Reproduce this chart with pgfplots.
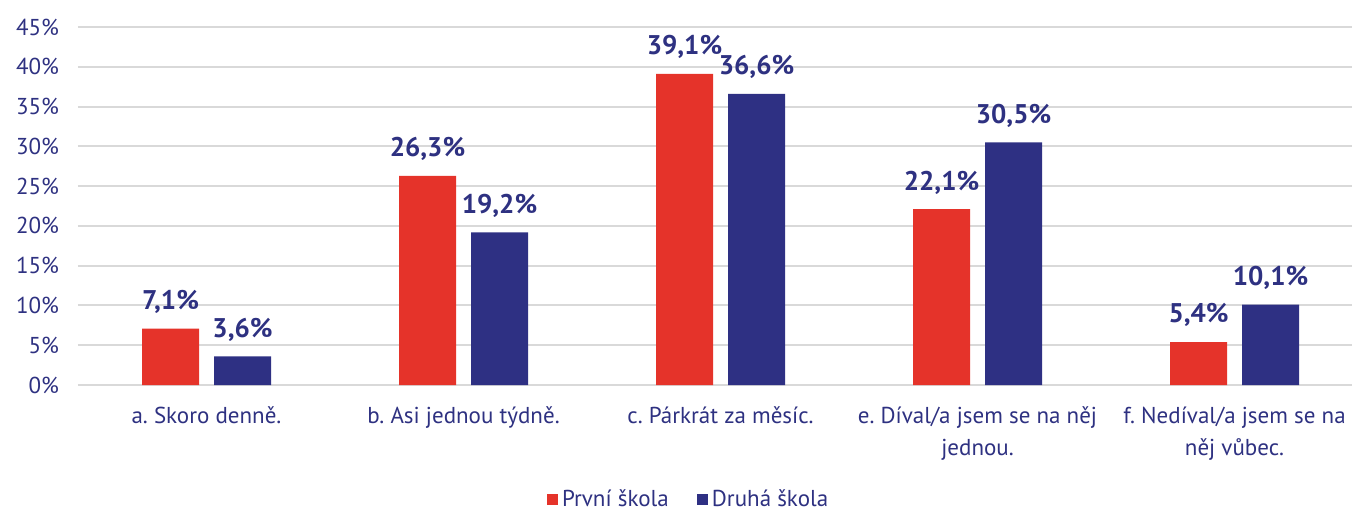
\documentclass[border=0pt]{standalone}
\usepackage{pgfplots}
\pgfplotsset{compat=1.18}
\usepackage{fontspec}
\setmainfont{PT Sans}
\frenchspacing
\definecolor{cred}{HTML}{E5332A}
\definecolor{cnavy}{HTML}{2E3083}
\definecolor{ctext}{HTML}{2E3181}
\definecolor{cgrid}{HTML}{D9D9D9}
\begin{document}
\begin{tikzpicture}
\useasboundingbox (-39pt,-64.5pt) rectangle (638pt,192.5pt);
\begin{axis}[
  at={(0,0)}, anchor=south west,
  scale only axis,
  width=637pt, height=179pt,
  ybar=7.5pt, bar width=28.5pt,
  xmin=-0.5, xmax=4.457,
  ymin=0, ymax=45,
  ytick={0,5,...,45},
  yticklabel={\pgfmathprintnumber{\tick}\%},
  xtick={0,1,2,3,4},
  xticklabels={a. Skoro denně.,b. Asi jednou týdně.,c. Párkrát za měsíc.,e. Díval/a jsem se na něj\\jednou.,f. Nedíval/a jsem se na\\něj vůbec.},
  xticklabel style={align=center, font=\fontsize{11.5}{16}\selectfont, text=ctext, yshift=-7.5pt},
  yticklabel style={font=\fontsize{11.5}{14}\selectfont, text=ctext, xshift=-6pt},
  /pgf/number format/assume math mode=true,
  axis line style={draw=none},
  major tick length=0pt,
  ymajorgrids,
  major grid style={draw=cgrid, line width=1pt},
  legend style={at={(0.48,-0.32)}, anchor=center, draw=none, legend columns=2,
    font=\fontsize{11.5}{14}\selectfont, text=ctext,
    /tikz/every even column/.append style={column sep=12pt}},
  legend image code/.code={\fill[#1] (0pt,-2.8pt) rectangle (5.6pt,2.8pt);},
  nodes near coords={\pgfmathprintnumber[fixed,fixed zerofill,precision=1,use comma]{\pgfplotspointmeta}\%},
  nodes near coords style={font=\bfseries\fontsize{13.5}{16}\selectfont, text=ctext, anchor=south, yshift=4pt},
]
\addplot[fill=cred, draw=none] coordinates {(0,7.1) (1,26.3) (2,39.1) (3,22.1) (4,5.4)};
\addlegendentry{První škola}
\addplot[fill=cnavy, draw=none] coordinates {(0,3.6) (1,19.2) (2,36.6) (3,30.5) (4,10.1)};
\addlegendentry{Druhá škola}
\end{axis}
\end{tikzpicture}
\end{document}
